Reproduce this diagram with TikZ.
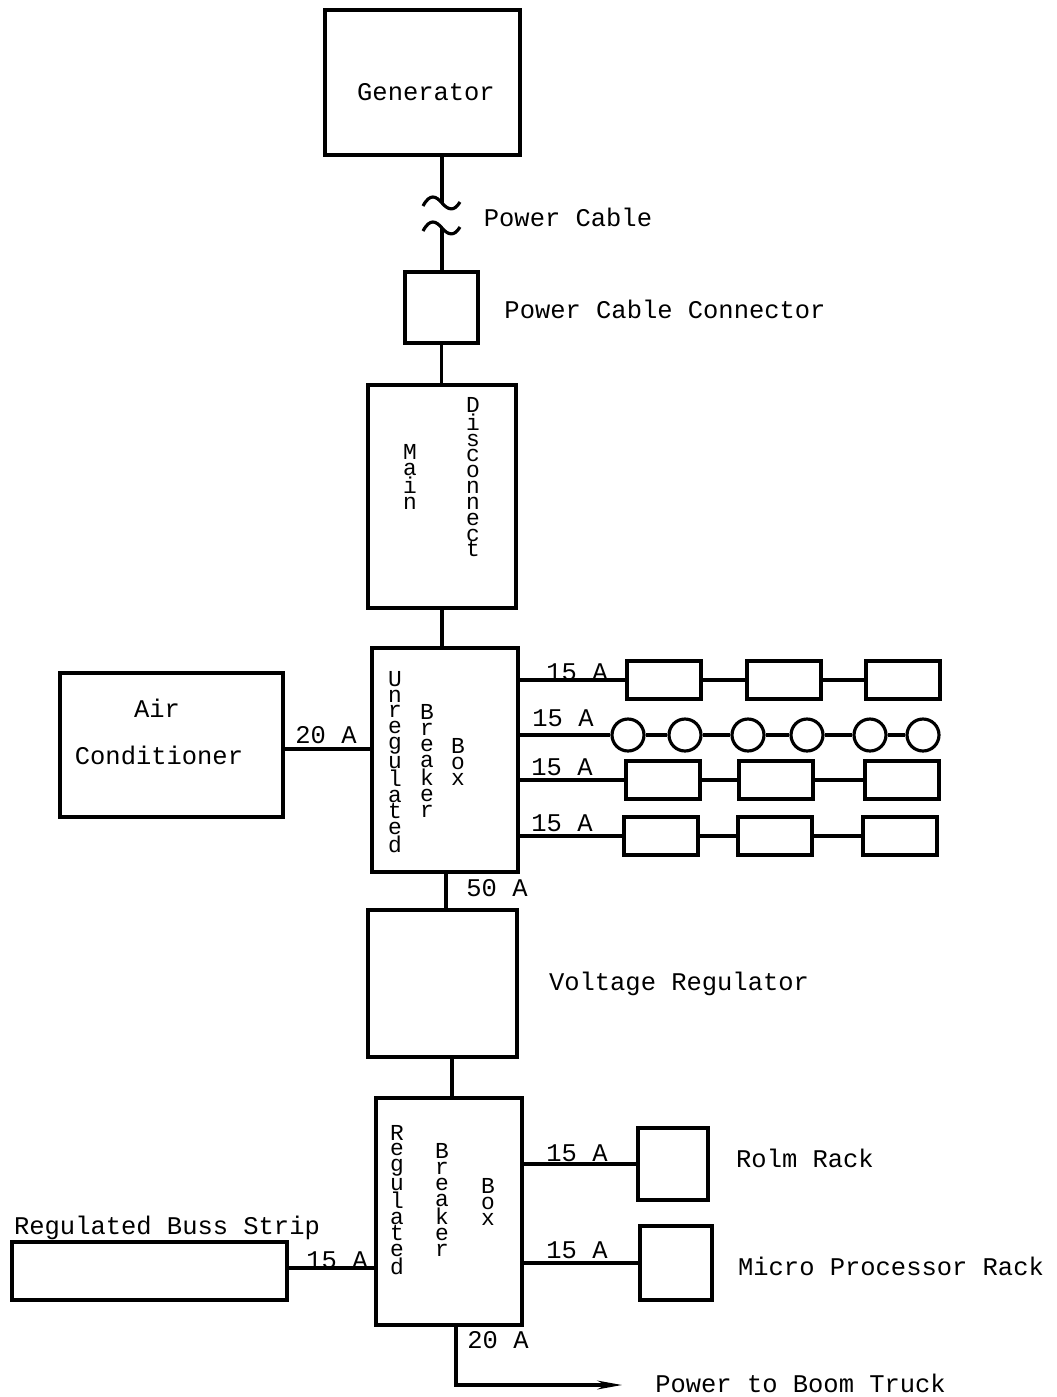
\documentclass[tikz,border=0pt]{standalone}
\usepackage{fontspec}
\setmainfont{Liberation Mono}
\usetikzlibrary{arrows.meta,positioning}

\begin{document}
\begin{tikzpicture}[x=0.02cm,y=-0.02cm,
  box/.style={draw,line width=1.8pt,inner sep=0pt},
  load/.style={draw,line width=1.8pt,minimum width=1.48cm,minimum height=0.76cm,inner sep=0pt},
  lamp/.style={draw,circle,line width=1.8pt,minimum size=0.64cm,inner sep=0pt},
  txt/.style={font=\fontsize{14.5}{18}\selectfont,inner sep=0pt},
  vtxt/.style={font=\fontsize{13}{9}\selectfont,align=center,inner sep=0pt},
  wire/.style={line width=1.8pt}]
\useasboundingbox (0,0) rectangle (1057,1397);

% main chain
\node[box,minimum width=3.9cm,minimum height=2.9cm] (gen) at (422.5,82.5) {};
\node[txt] (genlbl) at (426,92) {Generator};
\node[box,minimum width=1.46cm,minimum height=1.42cm] (conn) at (441.5,307.5) {};
\node[txt] (connlbl) at (665,309) {Power Cable Connector};
\node[txt] (cablelbl) at (568,217) {Power Cable};
\coordinate (cut1) at (442,203);
\coordinate (cut2) at (442,228);
\node[box,minimum width=2.96cm,minimum height=4.46cm] (maindisc) at (442,496.5) {};
\node[vtxt] (mainlbl) at (410,477) {M\\a\\i\\n};
\node[vtxt] (disclbl) at (473,477) {D\\i\\s\\c\\o\\n\\n\\e\\c\\t};
\node[box,minimum width=2.92cm,minimum height=4.48cm] (ubox) at (445,760) {};
\node[vtxt] (ulbl1) at (395,762) {U\\n\\r\\e\\g\\u\\l\\a\\t\\e\\d};
\node[vtxt] (ulbl2) at (427,761) {B\\r\\e\\a\\k\\e\\r};
\node[vtxt] (ulbl3) at (458,762) {B\\o\\x};
\node[box,minimum width=2.98cm,minimum height=2.94cm] (vreg) at (442.5,983.5) {};
\node[txt] (vreglbl) at (679,984) {Voltage Regulator};
\node[box,minimum width=2.92cm,minimum height=4.54cm] (rbox) at (449,1211.5) {};
\node[vtxt] (rlbl1) at (397,1200) {R\\e\\g\\u\\l\\a\\t\\e\\d};
\node[vtxt] (rlbl2) at (442,1200) {B\\r\\e\\a\\k\\e\\r};
\node[vtxt] (rlbl3) at (488,1202) {B\\o\\x};

\draw[wire] (gen.south -| cut1) -- (cut1);
\draw[wire] (cut2) -- (cut2 |- conn.north);
\draw[wire] (423,206) .. controls (430,193) and (436,196) .. (cut1)
  .. controls (448,210) and (454,212) .. (460,202);
\draw[wire] (423,231) .. controls (430,218) and (436,221) .. (cut2)
  .. controls (448,235) and (454,237) .. (460,227);
\draw[wire] (conn.south) -- (conn.south |- maindisc.north);
\draw[wire] (maindisc.south) -- (maindisc.south |- ubox.north);
\draw[wire] (vreg.north -| 446,0) -- (446,0 |- ubox.south);
\node[txt] (amp50) at (497,888) {50 A};
\draw[wire] (452,0 |- vreg.south) -- (452,0 |- rbox.north);

% air conditioner
\node[box,minimum width=4.46cm,minimum height=2.88cm] (aircon) at (171.5,745) {};
\node[txt] (airlbl1) at (157,708) {Air};
\node[txt] (airlbl2) at (159,755) {Conditioner};
\draw[wire] (aircon.east |- 0,749) -- (ubox.west |- 0,749);
\node[txt] (amp20a) at (326,735) {20 A};

% unregulated loads
\foreach \x [count=\i] in {664,784,903}
  \node[load] (la\i) at (\x,680) {};
\foreach \x [count=\i] in {628,685,748,807,870,923}
  \node[lamp] (lb\i) at (\x,735) {};
\foreach \x [count=\i] in {663,776,902}
  \node[load] (lc\i) at (\x,780) {};
\foreach \x [count=\i] in {661,775,900}
  \node[load] (ld\i) at (\x,836) {};
\draw[wire] (ubox.east |- la1.west) -- (la1) -- (la2) -- (la3);
\draw[wire] (ubox.east |- lb1.west) -- (lb1) -- (lb2) -- (lb3) -- (lb4) -- (lb5) -- (lb6);
\draw[wire] (ubox.east |- lc1.west) -- (lc1) -- (lc2) -- (lc3);
\draw[wire] (ubox.east |- ld1.west) -- (ld1) -- (ld2) -- (ld3);
\node[txt] (amp15a) at (577,672) {15 A};
\node[txt] (amp15b) at (563,718) {15 A};
\node[txt] (amp15c) at (562,767) {15 A};
\node[txt] (amp15d) at (562,823) {15 A};

% regulated loads
\node[box,minimum width=1.4cm,minimum height=1.44cm] (rolm) at (673,1164) {};
\node[txt] (rolmlbl) at (805,1158) {Rolm Rack};
\node[box,minimum width=1.44cm,minimum height=1.48cm] (micro) at (676,1263) {};
\node[txt] (microlbl) at (891,1266) {Micro Processor Rack};
\draw[wire] (rbox.east |- rolm.west) -- (rolm.west);
\draw[wire] (rbox.east |- micro.west) -- (micro.west);
\node[txt] (amp15e) at (577,1153) {15 A};
\node[txt] (amp15f) at (577,1250) {15 A};
\node[box,minimum width=5.5cm,minimum height=1.16cm] (buss) at (149.5,1271) {};
\node[txt] (busslbl) at (167,1228) {Regulated Buss Strip};
\draw[wire] (buss.east |- 0,1268) -- (rbox.west |- 0,1268);
\node[txt,anchor=base] (amp15g) at (337,1268) {15 A};

% boom truck feed
\coordinate (tip) at (622,1385);
\draw[wire,-{Stealth[length=14pt,width=5pt]}] (rbox.south -| 456,0) |- (tip);
\node[txt] (amp20b) at (498,1340) {20 A};
\node[txt,anchor=west] (boomlbl) at (655,1383) {Power to Boom Truck};
\end{tikzpicture}
\end{document}
